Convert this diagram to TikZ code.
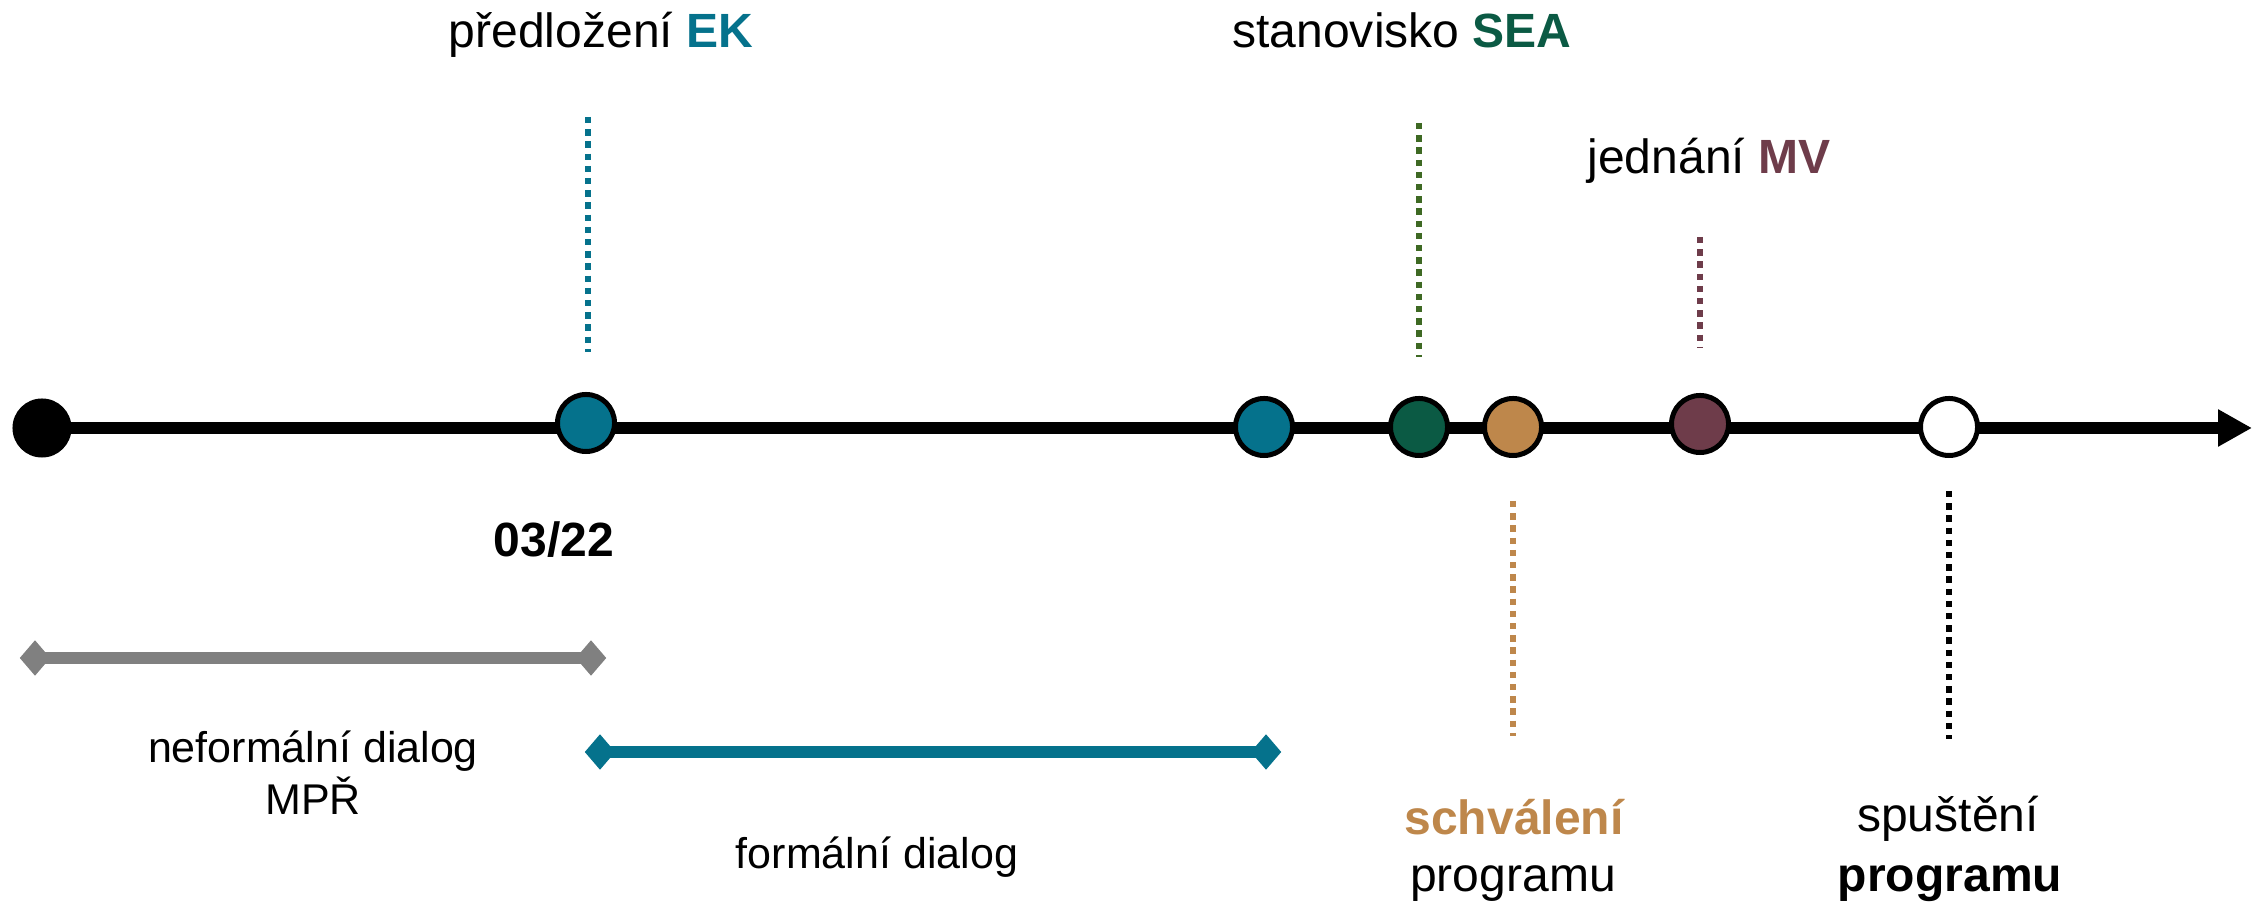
\documentclass[tikz,border=0pt]{standalone}
\usepackage{fontspec}
\setmainfont{Liberation Sans}
\usetikzlibrary{arrows.meta,backgrounds,shapes.geometric}
\definecolor{cteal}{RGB}{5,114,140}
\definecolor{cgreen}{RGB}{11,90,68}
\definecolor{colive}{RGB}{62,105,35}
\definecolor{ctan}{RGB}{190,135,75}
\definecolor{cmaroon}{RGB}{110,60,74}
\definecolor{cgray}{RGB}{128,128,128}
\tikzset{
  dot/.style={circle, draw=black, line width=1.42pt, minimum size=0.57cm, inner sep=0pt},
  vdots/.style={line width=1.71pt, dash pattern=on 1.8pt off 1.67pt},
  bar/.style={line width=3.41pt},
  dia/.style={diamond, fill, draw=none, minimum width=0.31cm, minimum height=0.36cm, inner sep=0pt},
  lab/.style={anchor=base, inner sep=0pt, font=\fontsize{13.66pt}{16pt}\selectfont},
  labs/.style={anchor=base, inner sep=0pt, font=\fontsize{12.23pt}{14pt}\selectfont},
}
\begin{document}
\begin{tikzpicture}[x=0.01cm, y=-0.01cm]
\useasboundingbox (0,0) rectangle (2264,904);

% timeline dots
\node[circle, fill=black, draw=none, minimum size=0.59cm, inner sep=0pt] (d0) at (42,428) {};
\node[dot, fill=cteal] (d1) at (586,423) {};
\node[dot, fill=cteal] (d2) at (1264,427) {};
\node[dot, fill=cgreen] (d3) at (1419,427) {};
\node[dot, fill=ctan] (d4) at (1513,427) {};
\node[dot, fill=cmaroon] (d5) at (1700,424) {};
\node[dot, fill=white] (d6) at (1949,427) {};
\coordinate (tip) at (2252,428);

\begin{scope}[on background layer]
  \draw[bar, -{Triangle[length=9.67pt, width=9.96pt]}] (d0.center) -- (tip);
\end{scope}

% vertical dotted markers
\coordinate (ekA) at (588,117);  \coordinate (ekB) at (588,352);
\coordinate (seaA) at (1419,123); \coordinate (seaB) at (1419,357);
\coordinate (mvA) at (1700,237);  \coordinate (mvB) at (1700,348);
\coordinate (schA) at (1513,501); \coordinate (schB) at (1513,736);
\coordinate (spA) at (1949,491);  \coordinate (spB) at (1949,739);
\draw[vdots, cteal] (ekA) -- (ekB);
\draw[vdots, colive] (seaA) -- (seaB);
\draw[vdots, cmaroon] (mvA) -- (mvB);
\draw[vdots, ctan] (schA) -- (schB);
\draw[vdots, black] (spA) -- (spB);

% period bars
\node[dia, fill=cgray] (g1) at (35,658) {};
\node[dia, fill=cgray] (g2) at (591,658) {};
\draw[bar, cgray] (g1.center) -- (g2.center);
\node[dia, fill=cteal] (t1) at (600,752) {};
\node[dia, fill=cteal] (t2) at (1266,752) {};
\draw[bar, cteal] (t1.center) -- (t2.center);

% labels
\node[lab] (lEK) at (601,48) {předložení \textbf{\color{cteal}EK}};
\node[lab] (lSEA) at (1402,48) {stanovisko \textbf{\color{cgreen}SEA}};
\node[lab] (lMV) at (1709,174) {jednání \textbf{\color{cmaroon}MV}};
\node[lab, font=\fontsize{13.66pt}{16pt}\selectfont\bfseries] (ldate) at (554,557) {03/22};
\node[labs] (lnef1) at (313,763) {neformální dialog};
\node[labs] (lnef2) at (313,815) {MPŘ};
\node[labs] (lform) at (877,869) {formální dialog};
\node[lab, text=ctan, font=\fontsize{13.66pt}{16pt}\selectfont\bfseries] (lsch1) at (1514,835) {schválení};
\node[lab] (lsch2) at (1513,892) {programu};
\node[lab] (lsp1) at (1948,832) {spuštění};
\node[lab, font=\fontsize{13.66pt}{16pt}\selectfont\bfseries] (lsp2) at (1950,891) {programu};
\end{tikzpicture}
\end{document}
